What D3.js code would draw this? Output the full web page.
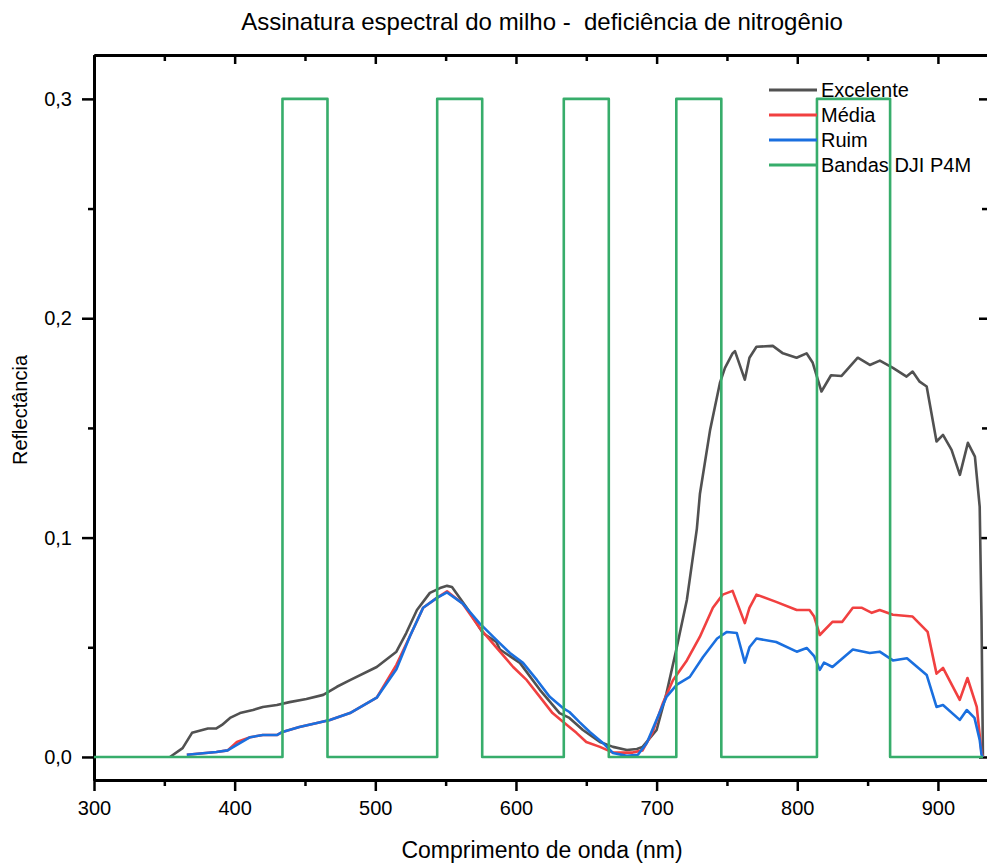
<!DOCTYPE html>
<html>
<head>
<meta charset="utf-8">
<script src="https://cdn.jsdelivr.net/npm/d3@7"></script>
<style>
  body { margin: 0; background: #fff; }
  text { font-family: "Liberation Sans", Arial, sans-serif; fill: #000; }
</style>
</head>
<body>
<div id="chart"></div>
<script>

// Data
var seriesNames = ["Excelente", "Média", "Ruim", "Bandas DJI P4M"];
var seriesColors = ["#515151", "#F14040", "#1A6FDF", "#37AD6B"];

var excWave = [354, 363, 369.7, 375, 381, 387, 391, 396.7, 403.8, 413, 420, 430, 439, 451, 463, 472.7, 482,
    501, 515, 522, 529.6, 538.8, 546, 551, 554.5, 565, 576.5, 586, 588.6, 602.8, 617, 631, 638, 647.6, 659.7,
    669, 678.8, 686, 690, 700, 707, 714, 721.5, 728.6, 730.8, 738, 745, 748.6, 754, 755.7, 762.7, 766, 771,
    782.6, 789.8, 799.5, 806.6, 811, 817.2, 824, 831.5, 843, 851.6, 858.7, 868, 877.7, 882, 887, 892, 899,
    903.6, 909.7, 915.6, 921.3, 926.3, 929.7, 931, 932];
var excVal = [0, 0.004, 0.011, 0.012, 0.013, 0.013, 0.0146, 0.0178, 0.020, 0.0214, 0.0228, 0.0237, 0.025, 0.0264,
    0.0283, 0.032, 0.035, 0.041, 0.048, 0.0565, 0.067, 0.0748, 0.077, 0.078, 0.0775, 0.068, 0.0565, 0.0524,
    0.049, 0.0429, 0.0306, 0.020, 0.0178, 0.0123, 0.0068, 0.0046, 0.0032, 0.0036, 0.0046, 0.0123, 0.029,
    0.049, 0.0716, 0.104, 0.120, 0.149, 0.1705, 0.1774, 0.184, 0.185, 0.172, 0.182, 0.187, 0.1874, 0.184,
    0.182, 0.184, 0.1797, 0.1666, 0.174, 0.1737, 0.182, 0.1787, 0.1807, 0.1774, 0.1734, 0.1757, 0.1711,
    0.1689, 0.1438, 0.1468, 0.140, 0.1286, 0.1432, 0.1369, 0.114, 0.0625, 0];

var medWave = [366, 387, 395, 401.6, 411, 420, 430, 434, 446, 458.5, 467.7, 482, 501, 515, 524.6, 534, 543.8,
    551, 562, 574, 586, 598, 607.7, 617, 626, 633.4, 643, 650, 659.7, 669, 683, 690, 697, 704.5, 711.6,
    721.5, 730.7, 740, 747, 754, 762.7, 766, 771, 785, 799.6, 808.7, 812, 816, 825, 832, 839.5, 846, 853,
    858.6, 868, 882, 892.7, 899, 903.6, 915.5, 921, 927.6, 931, 932];
var medVal = [0.001, 0.0023, 0.003, 0.0068, 0.009, 0.010, 0.010, 0.0114, 0.0137, 0.0155, 0.0169, 0.020, 0.027,
    0.042, 0.055, 0.068, 0.0725, 0.0755, 0.070, 0.059, 0.050, 0.041, 0.035, 0.0274, 0.020, 0.016, 0.011,
    0.0068, 0.0046, 0.002, 0.002, 0.003, 0.011, 0.0246, 0.035, 0.044, 0.0547, 0.068, 0.074, 0.0757, 0.061,
    0.068, 0.074, 0.0707, 0.067, 0.067, 0.064, 0.0556, 0.0616, 0.0616, 0.068, 0.068, 0.0657, 0.067, 0.0648,
    0.064, 0.057, 0.038, 0.0406, 0.026, 0.036, 0.0228, 0.002, 0];

var ruimWave = [366, 387, 395, 401.6, 411, 420, 430, 434, 446, 458.5, 467.7, 482, 501, 515, 524.6, 534, 543.8,
    551, 562, 574, 588.6, 595.7, 605, 615, 624, 633.4, 638, 645, 652.5, 661.8, 669, 678.8, 686.7, 693, 700,
    707, 714.4, 723.6, 733, 743, 750, 757, 762.7, 766, 771, 785, 799.6, 806.7, 812, 816, 819, 825, 839.5,
    851.5, 858.6, 868, 878, 892, 899, 903.6, 915.5, 920.5, 926, 929.7, 931, 932];
var ruimVal = [0.001, 0.0023, 0.003, 0.0055, 0.009, 0.010, 0.010, 0.0114, 0.0137, 0.0155, 0.0169, 0.020, 0.027,
    0.040, 0.055, 0.068, 0.0725, 0.075, 0.070, 0.061, 0.0518, 0.0474, 0.0429, 0.035, 0.0274, 0.0223, 0.0205,
    0.016, 0.0114, 0.0064, 0.0018, 0.0005, 0.001, 0.0064, 0.017, 0.0274, 0.033, 0.0365, 0.0456, 0.054,
    0.057, 0.0565, 0.043, 0.050, 0.054, 0.0524, 0.048, 0.0497, 0.046, 0.0397, 0.043, 0.041, 0.049, 0.0474,
    0.048, 0.044, 0.045, 0.0374, 0.0228, 0.0237, 0.0169, 0.0214, 0.0178, 0.0078, 0.001, 0];

// DJI P4M band limits (nm) and their plotted height
var bandLow = [434, 544, 634, 714, 814];
var bandHigh = [466, 576, 666, 746, 866];
var bandHeight = 0.3;
var bandStart = 300, bandEnd = 932;

var xTicks = [300, 400, 500, 600, 700, 800, 900];
var xMinor = [350, 450, 550, 650, 750, 850];
var yTicks = [0, 0.1, 0.2, 0.3];
var yMinor = [0.05, 0.15, 0.25];

// Set up chart
var svgWidth = 987;
var svgHeight = 865;
var margin = {top: 55, right: -1, bottom: 85, left: 94};
var width = svgWidth - margin.left - margin.right;
var height = svgHeight - margin.top - margin.bottom;

var svg = d3.select("#chart")
    .append("svg")
    .attr("width", svgWidth)
    .attr("height", svgHeight);

var chartGroup = svg.append("g")
    .attr("transform", `translate(${margin.left}, ${margin.top})`);

var xScale = d3.scaleLinear()
    .domain([300, 935.6])
    .range([0, width]);

var yScale = d3.scaleLinear()
    .domain([-0.0105, 0.32])
    .range([height, 0]);

var fmt = d => d3.format(".1f")(d).replace(".", ",");

// Axes: major + minor, outward on bottom/left, inward on top/right
function styleAxis(g) {
    g.select(".domain").attr("stroke", "#000").attr("stroke-width", 3);
    g.selectAll(".tick line").attr("stroke", "#000").attr("stroke-width", 2.5);
    g.selectAll(".tick text").style("font-size", "20px")
        .style("font-family", "'Liberation Sans', Arial, sans-serif");
}

chartGroup.append("g")
    .attr("transform", `translate(0, ${height})`)
    .call(d3.axisBottom(xScale).tickValues(xMinor).tickSize(6).tickSizeOuter(0).tickFormat(""))
    .call(styleAxis);
chartGroup.append("g")
    .attr("transform", `translate(0, ${height})`)
    .call(d3.axisBottom(xScale).tickValues(xTicks).tickSize(11).tickSizeOuter(0).tickPadding(10))
    .call(styleAxis);

chartGroup.append("g")
    .call(d3.axisTop(xScale).tickValues(xMinor).tickSize(-6).tickSizeOuter(0).tickFormat(""))
    .call(styleAxis);
chartGroup.append("g")
    .call(d3.axisTop(xScale).tickValues(xTicks).tickSize(-9).tickSizeOuter(0).tickFormat(""))
    .call(styleAxis);

chartGroup.append("g")
    .call(d3.axisLeft(yScale).tickValues(yMinor).tickSize(6).tickSizeOuter(0).tickFormat(""))
    .call(styleAxis);
chartGroup.append("g")
    .call(d3.axisLeft(yScale).tickValues(yTicks).tickSize(12).tickSizeOuter(0).tickPadding(10).tickFormat(fmt))
    .call(styleAxis);

chartGroup.append("g")
    .attr("transform", `translate(${width}, 0)`)
    .call(d3.axisRight(yScale).tickValues(yMinor).tickSize(-6).tickSizeOuter(0).tickFormat(""))
    .call(styleAxis);
chartGroup.append("g")
    .attr("transform", `translate(${width}, 0)`)
    .call(d3.axisRight(yScale).tickValues(yTicks).tickSize(-9).tickSizeOuter(0).tickFormat(""))
    .call(styleAxis);

// Spectral curves
var line = d3.line()
    .x(d => xScale(d[0]))
    .y(d => yScale(d[1]));

var curves = [
    d3.zip(excWave, excVal),
    d3.zip(medWave, medVal),
    d3.zip(ruimWave, ruimVal)
];

// Band outline built from the band limits
var bandPoints = [[bandStart, 0]];
bandLow.forEach(function(lo, i) {
    bandPoints.push([lo, 0], [lo, bandHeight], [bandHigh[i], bandHeight], [bandHigh[i], 0]);
});
bandPoints.push([bandEnd, 0]);
curves.push(bandPoints);

chartGroup.selectAll(".series")
    .data(curves)
    .enter()
    .append("path")
    .attr("class", "series")
    .attr("d", line)
    .attr("fill", "none")
    .attr("stroke", (d, i) => seriesColors[i])
    .attr("stroke-width", 2.6)
    .attr("stroke-linejoin", "round");

// Legend
var legend = svg.append("g")
    .attr("transform", "translate(769, 90)");

var legendItem = legend.selectAll("g")
    .data(seriesNames)
    .enter()
    .append("g")
    .attr("transform", (d, i) => `translate(0, ${i * 25})`);

legendItem.append("line")
    .attr("x1", 0).attr("x2", 48)
    .attr("stroke", (d, i) => seriesColors[i])
    .attr("stroke-width", 3);

legendItem.append("text")
    .attr("x", 52)
    .attr("dy", "0.36em")
    .style("font-size", "20px")
    .text(d => d);

// Title and axis labels
svg.append("text")
    .attr("x", 542)
    .attr("y", 30)
    .attr("text-anchor", "middle")
    .style("font-size", "24px")
    .style("white-space", "pre")
    .text("Assinatura espectral do milho -  deficiência de nitrogênio");

svg.append("text")
    .attr("x", 542)
    .attr("y", 858)
    .attr("text-anchor", "middle")
    .style("font-size", "23px")
    .text("Comprimento de onda (nm)");

svg.append("text")
    .attr("transform", "rotate(-90)")
    .attr("x", -410)
    .attr("y", 27)
    .attr("text-anchor", "middle")
    .style("font-size", "20px")
    .text("Reflectância");

</script>
</body>
</html>
